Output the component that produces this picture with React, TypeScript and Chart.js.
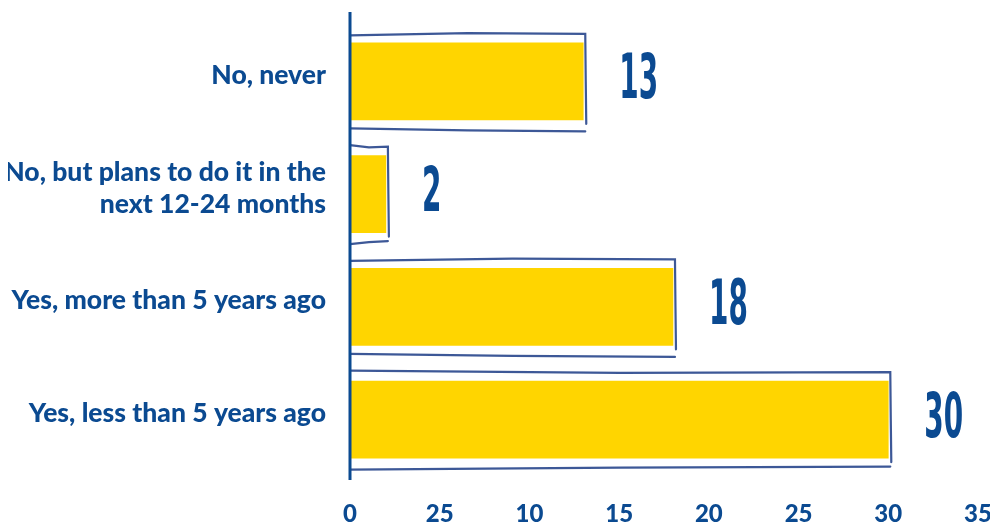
import React, { useEffect, useRef } from "react";
import { Chart, registerables } from "chart.js";

Chart.register(...registerables);

const categories: (string | string[])[] = [
  "No, never",
  ["No, but plans to do it in the", "next 12-24 months"],
  "Yes, more than 5 years ago",
  "Yes, less than 5 years ago",
];
const values = [13, 2, 18, 30];
const tickLabels = ["0", "25", "10", "15", "20", "25", "30", "35"];

const BLUE = "#0b4a91";
const YELLOW = "#ffd500";

const sketchPlugin = {
  id: "sketch",
  beforeDatasetsDraw(chart: any) {
    const ctx = chart.ctx;
    const meta = chart.getDatasetMeta(0);
    ctx.save();
    meta.data.forEach((bar: any, i: number) => {
      const h = bar.height;
      const x0 = bar.base;
      const x1 = bar.x + 2;
      const yTop = bar.y - h / 2 - 9;
      const yBot = bar.y + h / 2 + 10;
      ctx.fillStyle = "#ffffff";
      ctx.fillRect(x0, yTop, x1 - x0, yBot - yTop);
      ctx.strokeStyle = "rgba(40,70,140,0.9)";
      ctx.lineWidth = 2.2;
      ctx.lineCap = "round";
      const w = (i % 2 === 0 ? 1 : -1) * 1.5;
      ctx.beginPath();
      ctx.moveTo(x0, yTop + w);
      ctx.lineTo((x0 + x1) / 2, yTop - w * 0.5);
      ctx.lineTo(x1, yTop);
      ctx.lineTo(x1 + 0.5, (yTop + yBot) / 2);
      ctx.lineTo(x1 + 1, yBot - 6);
      ctx.stroke();
      ctx.beginPath();
      ctx.moveTo(x0, yBot - w);
      ctx.lineTo((x0 + x1) / 2, yBot + w * 0.3);
      ctx.lineTo(x1, yBot + w);
      ctx.stroke();
    });
    ctx.restore();
  },
  afterDatasetsDraw(chart: any) {
    const ctx = chart.ctx;
    const meta = chart.getDatasetMeta(0);
    ctx.save();
    ctx.strokeStyle = BLUE;
    ctx.lineWidth = 3;
    ctx.beginPath();
    const ax = chart.chartArea.left;
    ctx.moveTo(ax, 4);
    ctx.lineTo(ax, chart.chartArea.bottom + 4);
    ctx.stroke();
    ctx.fillStyle = BLUE;
    ctx.textBaseline = "middle";
    ctx.textAlign = "left";
    ctx.font = "bold 62px 'DejaVu Sans'";
    meta.data.forEach((bar: any, i: number) => {
      ctx.save();
      ctx.translate(bar.x + 36, bar.y + 1);
      ctx.scale(0.45, 1);
      ctx.fillText(String(values[i]), 0, 0);
      ctx.restore();
    });
    ctx.restore();
  },
};

export default function App() {
  const ref = useRef<HTMLCanvasElement | null>(null);
  useEffect(() => {
    if (!ref.current) return;
    const chart = new Chart(ref.current, {
      type: "bar",
      data: {
        labels: categories,
        datasets: [
          {
            data: values,
            backgroundColor: YELLOW,
            borderWidth: 0,
            barThickness: 77,
          },
        ],
      },
      options: {
        indexAxis: "y",
        animation: false,
        responsive: false,
        maintainAspectRatio: false,
        layout: { padding: { top: 17, right: 12, left: 0, bottom: 0 } },
        plugins: { legend: { display: false }, tooltip: { enabled: false } },
        scales: {
          x: {
            min: 0,
            max: 35,
            ticks: {
              stepSize: 5,
              color: BLUE,
              padding: 24,
              maxRotation: 0,
              font: { family: "Lato", size: 24, weight: "900" },
              callback: (_v: any, i: number) => tickLabels[i],
            },
            grid: { display: false, drawTicks: false },
            border: { display: false },
            afterFit: (s: any) => {
              s.height = 50;
              s.paddingLeft = 0;
              s.paddingRight = 0;
            },
          },
          y: {
            ticks: {
              color: BLUE,
              padding: 24,
              labelOffset: -6,
              font: { family: "Lato", size: 26.5, weight: "900", lineHeight: 1.2 },
            },
            grid: { display: false, drawTicks: false },
            border: { display: false },
            afterFit: (s: any) => {
              s.width = 342;
              s.paddingTop = 0;
              s.paddingBottom = 0;
            },
          },
        },
      },
      plugins: [sketchPlugin],
    });
    return () => chart.destroy();
  }, []);
  return (
    <div>
      <canvas ref={ref} width={982} height={518} style={{ display: "block" }} />
    </div>
  );
}
